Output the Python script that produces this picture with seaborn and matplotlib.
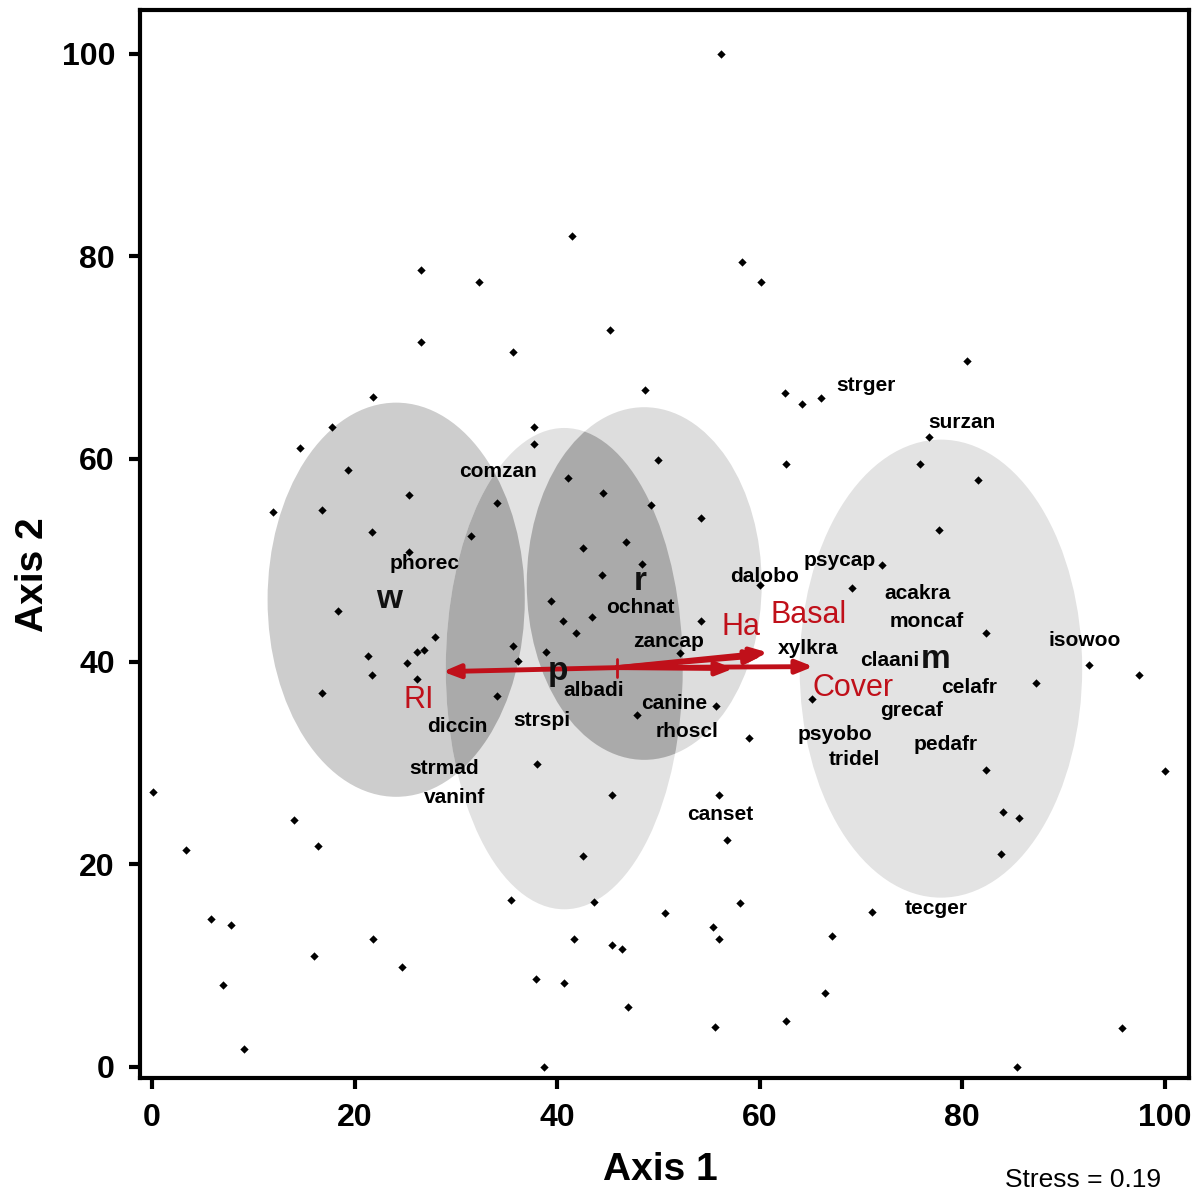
import matplotlib
matplotlib.use("Agg")
import matplotlib.pyplot as plt
from matplotlib.patches import Ellipse
import seaborn as sns
import pandas as pd

# site scores
site_x = [56.2, 41.5, 58.3, 60.1, 26.6, 32.3, 45.2, 26.6, 35.6, 21.8,
          80.5, 48.7, 62.5, 64.2, 66.1, 76.7, 17.8, 14.6, 37.7, 37.7,
          19.3, 25.4, 41.1, 44.5, 11.9, 16.8, 34.1, 21.7, 31.5, 25.4,
          42.6, 46.8, 44.4, 39.4, 18.4, 43.4, 40.6, 41.9, 27.9, 21.3,
          26.2, 26.8, 25.2, 35.6, 36.1, 21.7, 26.2, 38.9, 16.8, 34.1,
          47.9, 50.0, 62.6, 49.3, 54.2, 48.4, 54.2, 55.7, 58.9, 38.0,
          52.1, 60.0, 75.8, 81.6, 77.7, 72.1, 69.1, 82.4, 92.5, 97.5,
          87.3, 65.2, 82.4, 100.0, 56.0, 84.0, 85.6, 56.8, 83.8, 58.1,
          50.6, 71.1, 55.4, 56.0, 67.1, 66.5, 55.6, 62.6, 95.8, 85.4,
          0.1, 14.0, 3.3, 16.4, 45.4, 42.6, 35.4, 43.6, 5.8, 7.8,
          21.8, 41.7, 45.4, 46.4, 16.0, 24.7, 37.9, 40.7, 7.0, 47.0,
          9.1, 38.7]
site_y = [100.0, 82.0, 79.4, 77.5, 78.6, 77.5, 72.7, 71.5, 70.5, 66.1,
          69.7, 66.8, 66.5, 65.4, 66.0, 62.2, 63.1, 61.1, 63.1, 61.5,
          58.9, 56.4, 58.1, 56.6, 54.8, 55.0, 55.6, 52.8, 52.4, 50.8,
          51.2, 51.8, 48.5, 46.0, 45.0, 44.4, 44.0, 42.8, 42.4, 40.5,
          40.9, 41.1, 39.9, 41.5, 40.1, 38.7, 38.3, 40.9, 36.9, 36.6,
          34.7, 59.9, 59.5, 55.4, 54.2, 49.6, 44.0, 35.6, 32.5, 29.9,
          40.8, 47.6, 59.5, 57.9, 53.0, 49.5, 47.3, 42.8, 39.7, 38.7,
          37.9, 36.3, 29.3, 29.2, 26.8, 25.2, 24.6, 22.4, 21.0, 16.2,
          15.2, 15.3, 13.8, 12.6, 12.9, 7.3, 3.9, 4.5, 3.8, 0.0,
          27.1, 24.4, 21.4, 21.8, 26.8, 20.8, 16.5, 16.3, 14.6, 14.0,
          12.6, 12.6, 12.0, 11.6, 10.9, 9.9, 8.7, 8.3, 8.1, 5.9,
          1.8, 0.0]

# group ellipses
groups = ["w", "p", "r", "m"]
group_cx = [24.1, 40.7, 48.6, 77.9]
group_cy = [46.1, 39.3, 47.7, 39.3]
group_w = [25.4, 23.4, 23.2, 27.9]
group_h = [38.9, 47.5, 34.8, 45.2]
group_lx = [23.4, 40.1, 48.2, 77.4]
group_ly = [46.1, 39.0, 47.9, 40.2]

# species labels
species = ["strger", "surzan", "comzan", "phorec", "psycap", "dalobo", "acakra",
           "ochnat", "moncaf", "zancap", "xylkra", "isowoo", "claani", "albadi",
           "celafr", "canine", "grecaf", "diccin", "strspi", "rhoscl", "psyobo",
           "pedafr", "tridel", "strmad", "vaninf", "canset", "tecger"]
species_x = [70.5, 80.0, 34.2, 26.9, 67.9, 60.5, 75.6, 48.2, 76.5, 51.0, 64.8,
             92.1, 72.8, 43.6, 80.7, 51.6, 75.0, 30.1, 38.5, 52.8, 67.4, 78.4,
             69.4, 28.8, 29.9, 56.1, 77.4]
species_y = [67.2, 63.6, 58.8, 49.7, 50.0, 48.4, 46.7, 45.3, 44.0, 42.0, 41.3,
             42.1, 40.1, 37.1, 37.4, 35.9, 35.2, 33.6, 34.2, 33.1, 32.8, 31.8,
             30.3, 29.4, 26.6, 24.9, 15.6]

# environmental vectors
origin = (45.9, 39.4)
arrow_x = [28.7, 65.3, 57.4, 60.3, 60.8]
arrow_y = [39.0, 39.5, 39.3, 40.6, 40.9]
vec_labels = ["RI", "Ha", "Basal", "Cover"]
vec_lx = [26.3, 58.2, 64.8, 69.2]
vec_ly = [36.2, 43.4, 44.6, 37.4]

sns.set_style("ticks")
plt.rcParams["font.family"] = ["Liberation Sans", "DejaVu Sans"]
plt.rcParams["text.color"] = "black"
plt.rcParams["xtick.color"] = "black"
plt.rcParams["ytick.color"] = "black"

fig = plt.figure(figsize=(12, 11.94), dpi=100)
ax = fig.add_axes([140 / 1200, 1 - 1078 / 1194, 1049 / 1200, 1068 / 1194])

base_col = {"w": "#cdcdcd", "p": "#e2e2e2", "r": "#dddddd", "m": "#e3e3e3"}
patches = {}
for g, cx, cy, w, h in zip(groups, group_cx, group_cy, group_w, group_h):
    e = Ellipse((cx, cy), w, h, fc=base_col[g], ec="none", zorder=1)
    ax.add_patch(e)
    patches[g] = (cx, cy, w, h, e)

# darker where ellipses overlap
for top, under in [("p", "w"), ("r", "p")]:
    cx, cy, w, h, _ = patches[top]
    ov = Ellipse((cx, cy), w, h, fc="#aaaaaa", ec="none", zorder=1.5)
    ax.add_patch(ov)
    ov.set_clip_path(patches[under][4])

df = pd.DataFrame({"x": site_x, "y": site_y})
sns.scatterplot(data=df, x="x", y="y", marker="D", s=18, color="black",
                linewidth=0, ax=ax, zorder=3)

red = "#c0101a"
for ex, ey in zip(arrow_x, arrow_y):
    ax.annotate("", xy=(ex, ey), xytext=origin, zorder=4,
                arrowprops=dict(arrowstyle="-|>,head_length=1.0,head_width=0.4",
                                color=red, lw=3.5, shrinkA=0, shrinkB=0))
ax.plot([origin[0], origin[0]], [origin[1] - 0.9, origin[1] + 0.9], color=red,
        lw=2, zorder=4)

for name, x, y in zip(species, species_x, species_y):
    ax.text(x, y, name, ha="center", va="center", fontsize=15,
            fontweight="bold", color="black", zorder=5)
for g, x, y in zip(groups, group_lx, group_ly):
    ax.text(x, y, g, ha="center", va="center", fontsize=24,
            fontweight="bold", color="#111111", zorder=5)
for lab, x, y in zip(vec_labels, vec_lx, vec_ly):
    ax.text(x, y, lab, ha="center", va="center", fontsize=22,
            color=red, zorder=5)

ax.set_xlim(-1.2, 102.4)
ax.set_ylim(-1.1, 104.3)
ax.set_xticks([0, 20, 40, 60, 80, 100])
ax.set_yticks([0, 20, 40, 60, 80, 100])
ax.tick_params(axis="both", direction="out", length=8, width=3,
               labelsize=23, pad=10, color="black", labelcolor="black")
for lab in ax.get_xticklabels() + ax.get_yticklabels():
    lab.set_fontweight("bold")
for sp in ax.spines.values():
    sp.set_visible(True)
    sp.set_linewidth(3)
    sp.set_color("black")
ax.set_xlabel("")
ax.set_ylabel("")

fig.text(660 / 1200, 1 - 1170 / 1194, "Axis 1", ha="center", va="center",
         fontsize=28, fontweight="bold", color="black")
fig.text(33 / 1200, 1 - 575 / 1194, "Axis 2", ha="center", va="center",
         fontsize=28, fontweight="bold", rotation=90, color="black")
fig.text(1083 / 1200, 1 - 1180 / 1194, "Stress = 0.19", ha="center",
         va="center", fontsize=19, color="black")

fig.savefig("out.png", dpi=100)
plt.close(fig)
